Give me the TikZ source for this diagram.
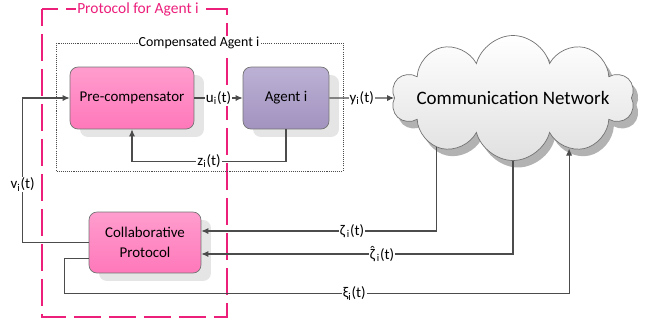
\documentclass[tikz,border=0pt]{standalone}
\usepackage{fontspec}
\setmainfont{Carlito}
\usepackage{xcolor}
\usepackage{tikz}
\usetikzlibrary{arrows.meta,shapes.symbols,shadows,calc}

\definecolor{pinktop}{HTML}{FF9DCE}
\definecolor{pinkbot}{HTML}{FF78BA}
\definecolor{lilactop}{HTML}{BCB1D5}
\definecolor{lilacbot}{HTML}{A292BF}
\definecolor{protopink}{HTML}{EC1F7B}

\begin{document}
\begin{tikzpicture}[x=0.02cm,y=-0.02cm]
            \tikzset{block/.style = {draw=black!55, rounded corners=0.16cm, minimum height=1.24cm, align=center,
                font=\fontsize{8.5}{11.3}\selectfont,
                drop shadow={shadow xshift=0.2cm, shadow yshift=-0.16cm, fill=black!10, opacity=1}}}
            \tikzset{pinkblock/.style = {block, top color=pinktop, bottom color=pinkbot}}
            \tikzset{edge/.style = {-{Latex[length=4pt,width=3.5pt]}, draw=black!70, line width=0.6pt}}
            \tikzset{lab/.style = {fill=white, inner sep=0.6pt, font=\fontsize{8.5}{10}\selectfont}}
            \useasboundingbox (0,0) rectangle (654,329);

            % frames
            \draw[protopink, line width=1pt, dash pattern=on 0.54cm off 0.16cm, dash phase=0.2cm] (42,9) rectangle (227,317);
            \node[lab, text=protopink, font=\fontsize{8.8}{10}\selectfont] (protolab) at (138,9) {Protocol for Agent i};
            \draw[black!70, line width=0.5pt, dash pattern=on 0.6pt off 0.6pt] (56,43) rectangle (343,171);
            \node[lab, font=\fontsize{7.9}{10}\selectfont] (complab) at (199,43) {Compensated Agent i};

            % blocks
            \node[pinkblock, minimum width=2.48cm] (pre) at (132,98) {Pre-compensator};
            \node[block, top color=lilactop, bottom color=lilacbot, minimum width=1.72cm] (agent) at (286,98) {Agent i};
            \node[pinkblock, minimum width=2.24cm, minimum height=1.22cm] (collab) at (145,242.5) {Collaborative\\Protocol};
            \node[cloud, cloud puffs=10, aspect=2, draw=black!55, top color=white, bottom color=black!12,
                minimum width=4.85cm, minimum height=2.5cm, inner sep=0pt, font=\fontsize{10.8}{13}\selectfont,
                drop shadow={shadow xshift=0.1cm, shadow yshift=-0.14cm, fill=black!30, opacity=1}] (net) at (513,98) {\makebox[0pt]{Communication Network}};

            % connectors
            \draw[edge] (pre) -- node[lab] {u\textsubscript{i}(t)} (agent);
            \draw[edge] (agent) -- node[lab] {y\textsubscript{i}(t)} (net);
            \draw[edge] (agent.south) -- ++(0,32) -| node[lab, pos=0.25] {z\textsubscript{i}(t)} (pre.south);
            \draw[edge] (collab.west) -- ++(-66,0) |- node[lab, pos=0.2] {v\textsubscript{i}(t)} (pre.west);
            \foreach \ang/\dy/\p/\txt in {-147/0.23cm/0.68/{ζ\textsubscript{\,i}(t)}, -90/-0.23cm/0.71/{\accent"02C6 ζ\textsubscript{\,i}(t)}}
            {
              \draw[edge] (net.\ang) |- node[lab, pos=\p] {\txt} ([yshift=\dy]collab.east);
            }
            \draw[edge] ([yshift=-0.32cm]collab.west) -- ++(-24,0) -- ++(0,35) -| node[lab, pos=0.287] {ξ\textsubscript{i}(t)} (net.-42);

          \end{tikzpicture}
\end{document}
